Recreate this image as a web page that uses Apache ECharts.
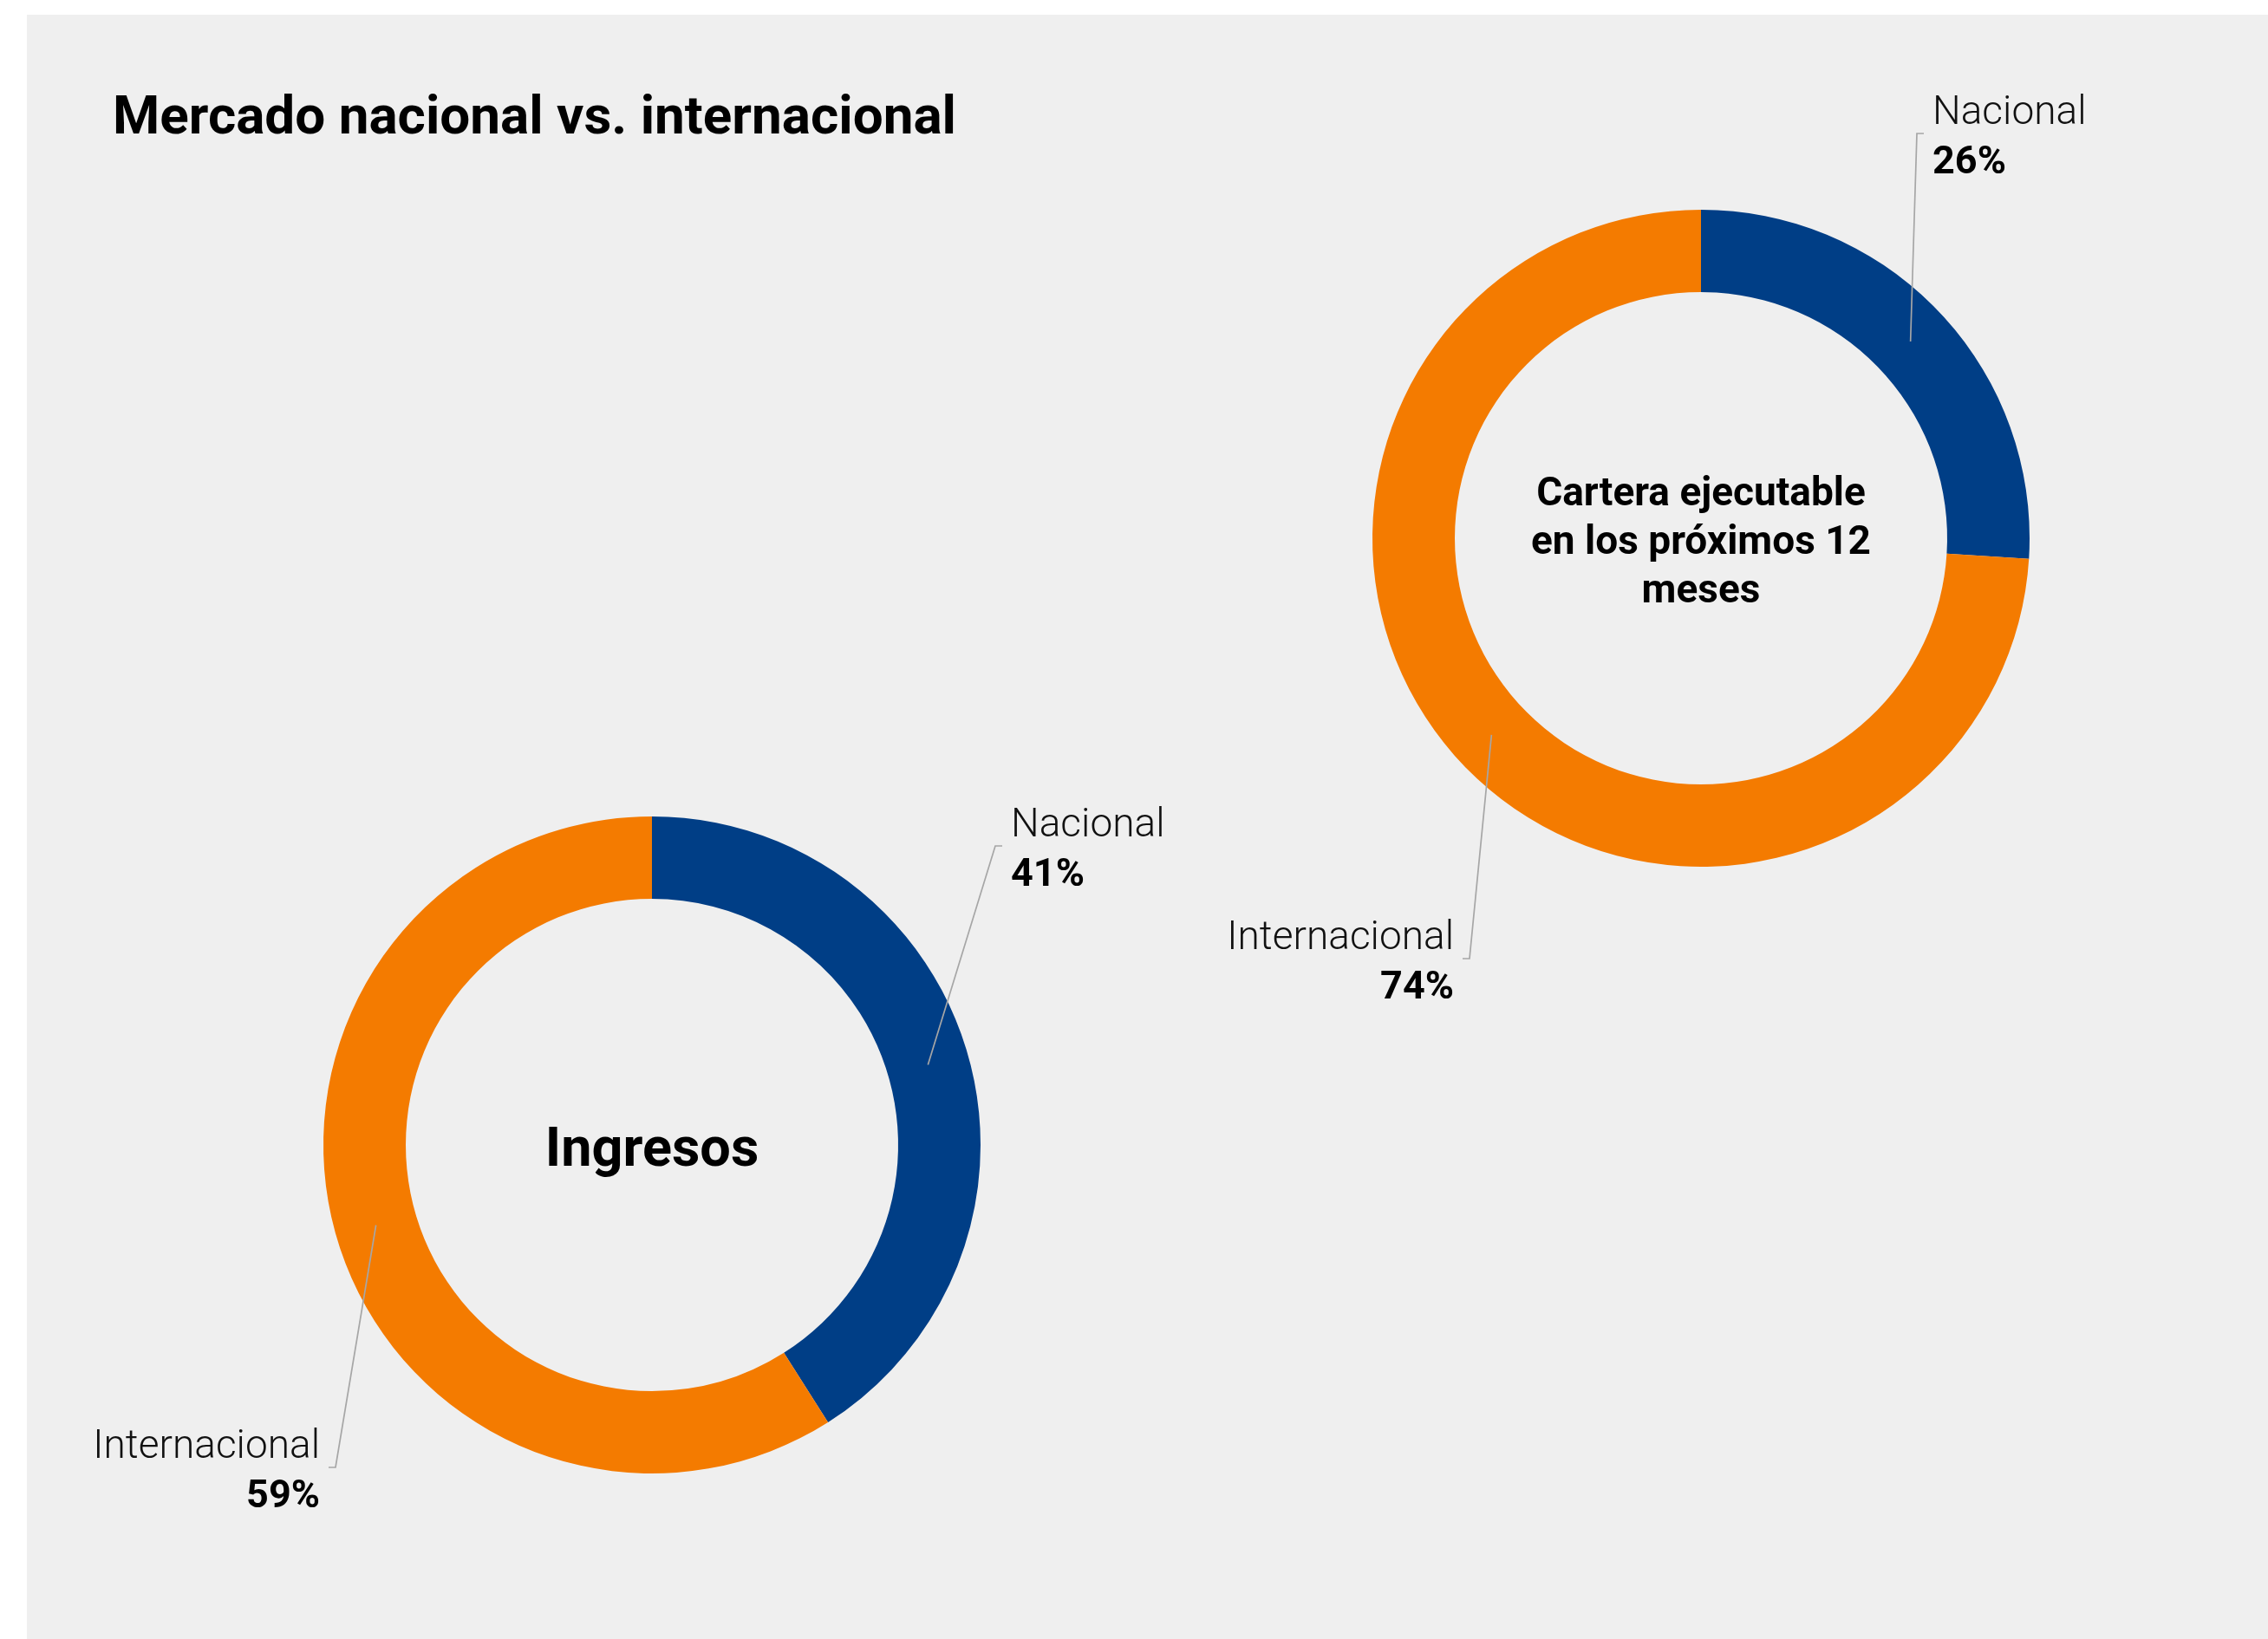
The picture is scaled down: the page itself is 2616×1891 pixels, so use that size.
<!DOCTYPE html>
<html><head><meta charset="utf-8">
<script src="https://cdn.jsdelivr.net/npm/echarts@6/dist/echarts.min.js"></script>
<style>html,body{margin:0;padding:0;background:#fff}#c{width:2616px;height:1891px}</style>
</head><body><div id="c"></div>
<script>
// ---- data ----
const categories = ['Nacional', 'Internacional'];
const ingresosValues = [41, 59];
const carteraValues = [26, 74];
const titleText = 'Mercado nacional vs. internacional';
const ingresosLabel = 'Ingresos';
const carteraLabel = 'Cartera ejecutable\nen los próximos 12\nmeses';

// ---- style / layout ----
const colors = ['#003e86', '#f47b00'];
const FONT = 'Roboto, "Noto Sans", sans-serif';
const R_IN = 284, R_OUT = 379;
const donuts = [
  { center: [752, 1321], anchors: [[396, -345], [-365, 372]] },
  { center: [1962, 621], anchors: [[249, -467], [-267, 485]] }
];

function mkData(vals) { return categories.map((c, i) => ({ name: c, value: vals[i] })); }

function labelLayoutFor(k, vals) {
  return function (params) {
    const d = donuts[k];
    const i = params.dataIndex;
    const total = vals.reduce((a, b) => a + b, 0);
    let before = 0;
    for (let j = 0; j < i; j++) before += vals[j];
    const mid = (before + vals[i] / 2) / total * 2 * Math.PI;
    const rm = (R_IN + R_OUT) / 2;
    const sx = d.center[0] + rm * Math.sin(mid), sy = d.center[1] - rm * Math.cos(mid);
    const ex = d.center[0] + d.anchors[i][0], ey = d.center[1] + d.anchors[i][1];
    const dir = d.anchors[i][0] >= 0 ? 1 : -1;
    const fx = ex + dir * 8;
    return {
      x: fx + dir * 10, y: ey + 6,
      align: dir > 0 ? 'left' : 'right', verticalAlign: 'middle',
      labelLinePoints: [[sx, sy], [ex, ey], [fx, ey]]
    };
  };
}

const rich = {
  nL: { fontFamily: FONT, fontSize: 46, fontWeight: 300, color: '#111', lineHeight: 57, align: 'left' },
  pL: { fontFamily: FONT, fontSize: 45, fontWeight: 'bold', color: '#000', lineHeight: 57, align: 'left' },
  nR: { fontFamily: FONT, fontSize: 46, fontWeight: 300, color: '#111', lineHeight: 57, align: 'right' },
  pR: { fontFamily: FONT, fontSize: 45, fontWeight: 'bold', color: '#000', lineHeight: 57, align: 'right' }
};

// coloured ring (no labels)
function mkRing(k, vals) {
  return {
    type: 'pie', silent: true, z: 2,
    center: donuts[k].center, radius: [R_IN, R_OUT],
    startAngle: 90, clockwise: true,
    data: mkData(vals),
    itemStyle: { borderWidth: 0 },
    label: { show: false }, labelLine: { show: false },
    emphasis: { disabled: true }
  };
}
// transparent overlay of the same ring carrying labels + leader lines drawn above the colours
function mkLabels(k, vals) {
  return {
    type: 'pie', silent: true, z: 5,
    center: donuts[k].center, radius: [R_IN, R_OUT],
    startAngle: 90, clockwise: true,
    avoidLabelOverlap: false,
    data: mkData(vals),
    itemStyle: { color: 'rgba(0,0,0,0)', borderWidth: 0 },
    label: {
      show: true,
      position: 'outside',
      formatter: function (p) {
        const s = p.dataIndex === 0 ? 'L' : 'R';
        return '{n' + s + '|' + p.name + '}\n{p' + s + '|' + p.value + '%}';
      },
      rich: rich
    },
    labelLine: { show: true, showAbove: true, lineStyle: { color: '#a6a6a6', width: 1.7 } },
    labelLayout: labelLayoutFor(k, vals),
    emphasis: { disabled: true }
  };
}

const chart = echarts.init(document.getElementById('c'), null, { renderer: 'canvas' });
chart.setOption({
  animation: false,
  backgroundColor: '#ffffff',
  color: colors,
  graphic: [{
    type: 'rect', z: -10, silent: true,
    shape: { x: 31, y: 17, width: 2585, height: 1874 },
    style: { fill: '#efefef' }
  }],
  title: [
    {
      text: titleText, left: 130, top: 107, padding: 0,
      textStyle: { fontFamily: FONT, fontSize: 62, fontWeight: 'bold', color: '#000' }
    },
    {
      text: ingresosLabel, left: 752, top: 1329, padding: 0,
      textAlign: 'center', textVerticalAlign: 'middle',
      textStyle: { fontFamily: FONT, fontSize: 63, fontWeight: 'bold', color: '#000' }
    },
    {
      text: carteraLabel, left: 1962, top: 627, padding: 0,
      textAlign: 'center', textVerticalAlign: 'middle',
      textStyle: { fontFamily: FONT, fontSize: 46, fontWeight: 'bold', color: '#000', lineHeight: 56 }
    }
  ],
  series: [
    mkRing(0, ingresosValues), mkRing(1, carteraValues),
    mkLabels(0, ingresosValues), mkLabels(1, carteraValues)
  ]
});
</script>
</body></html>
